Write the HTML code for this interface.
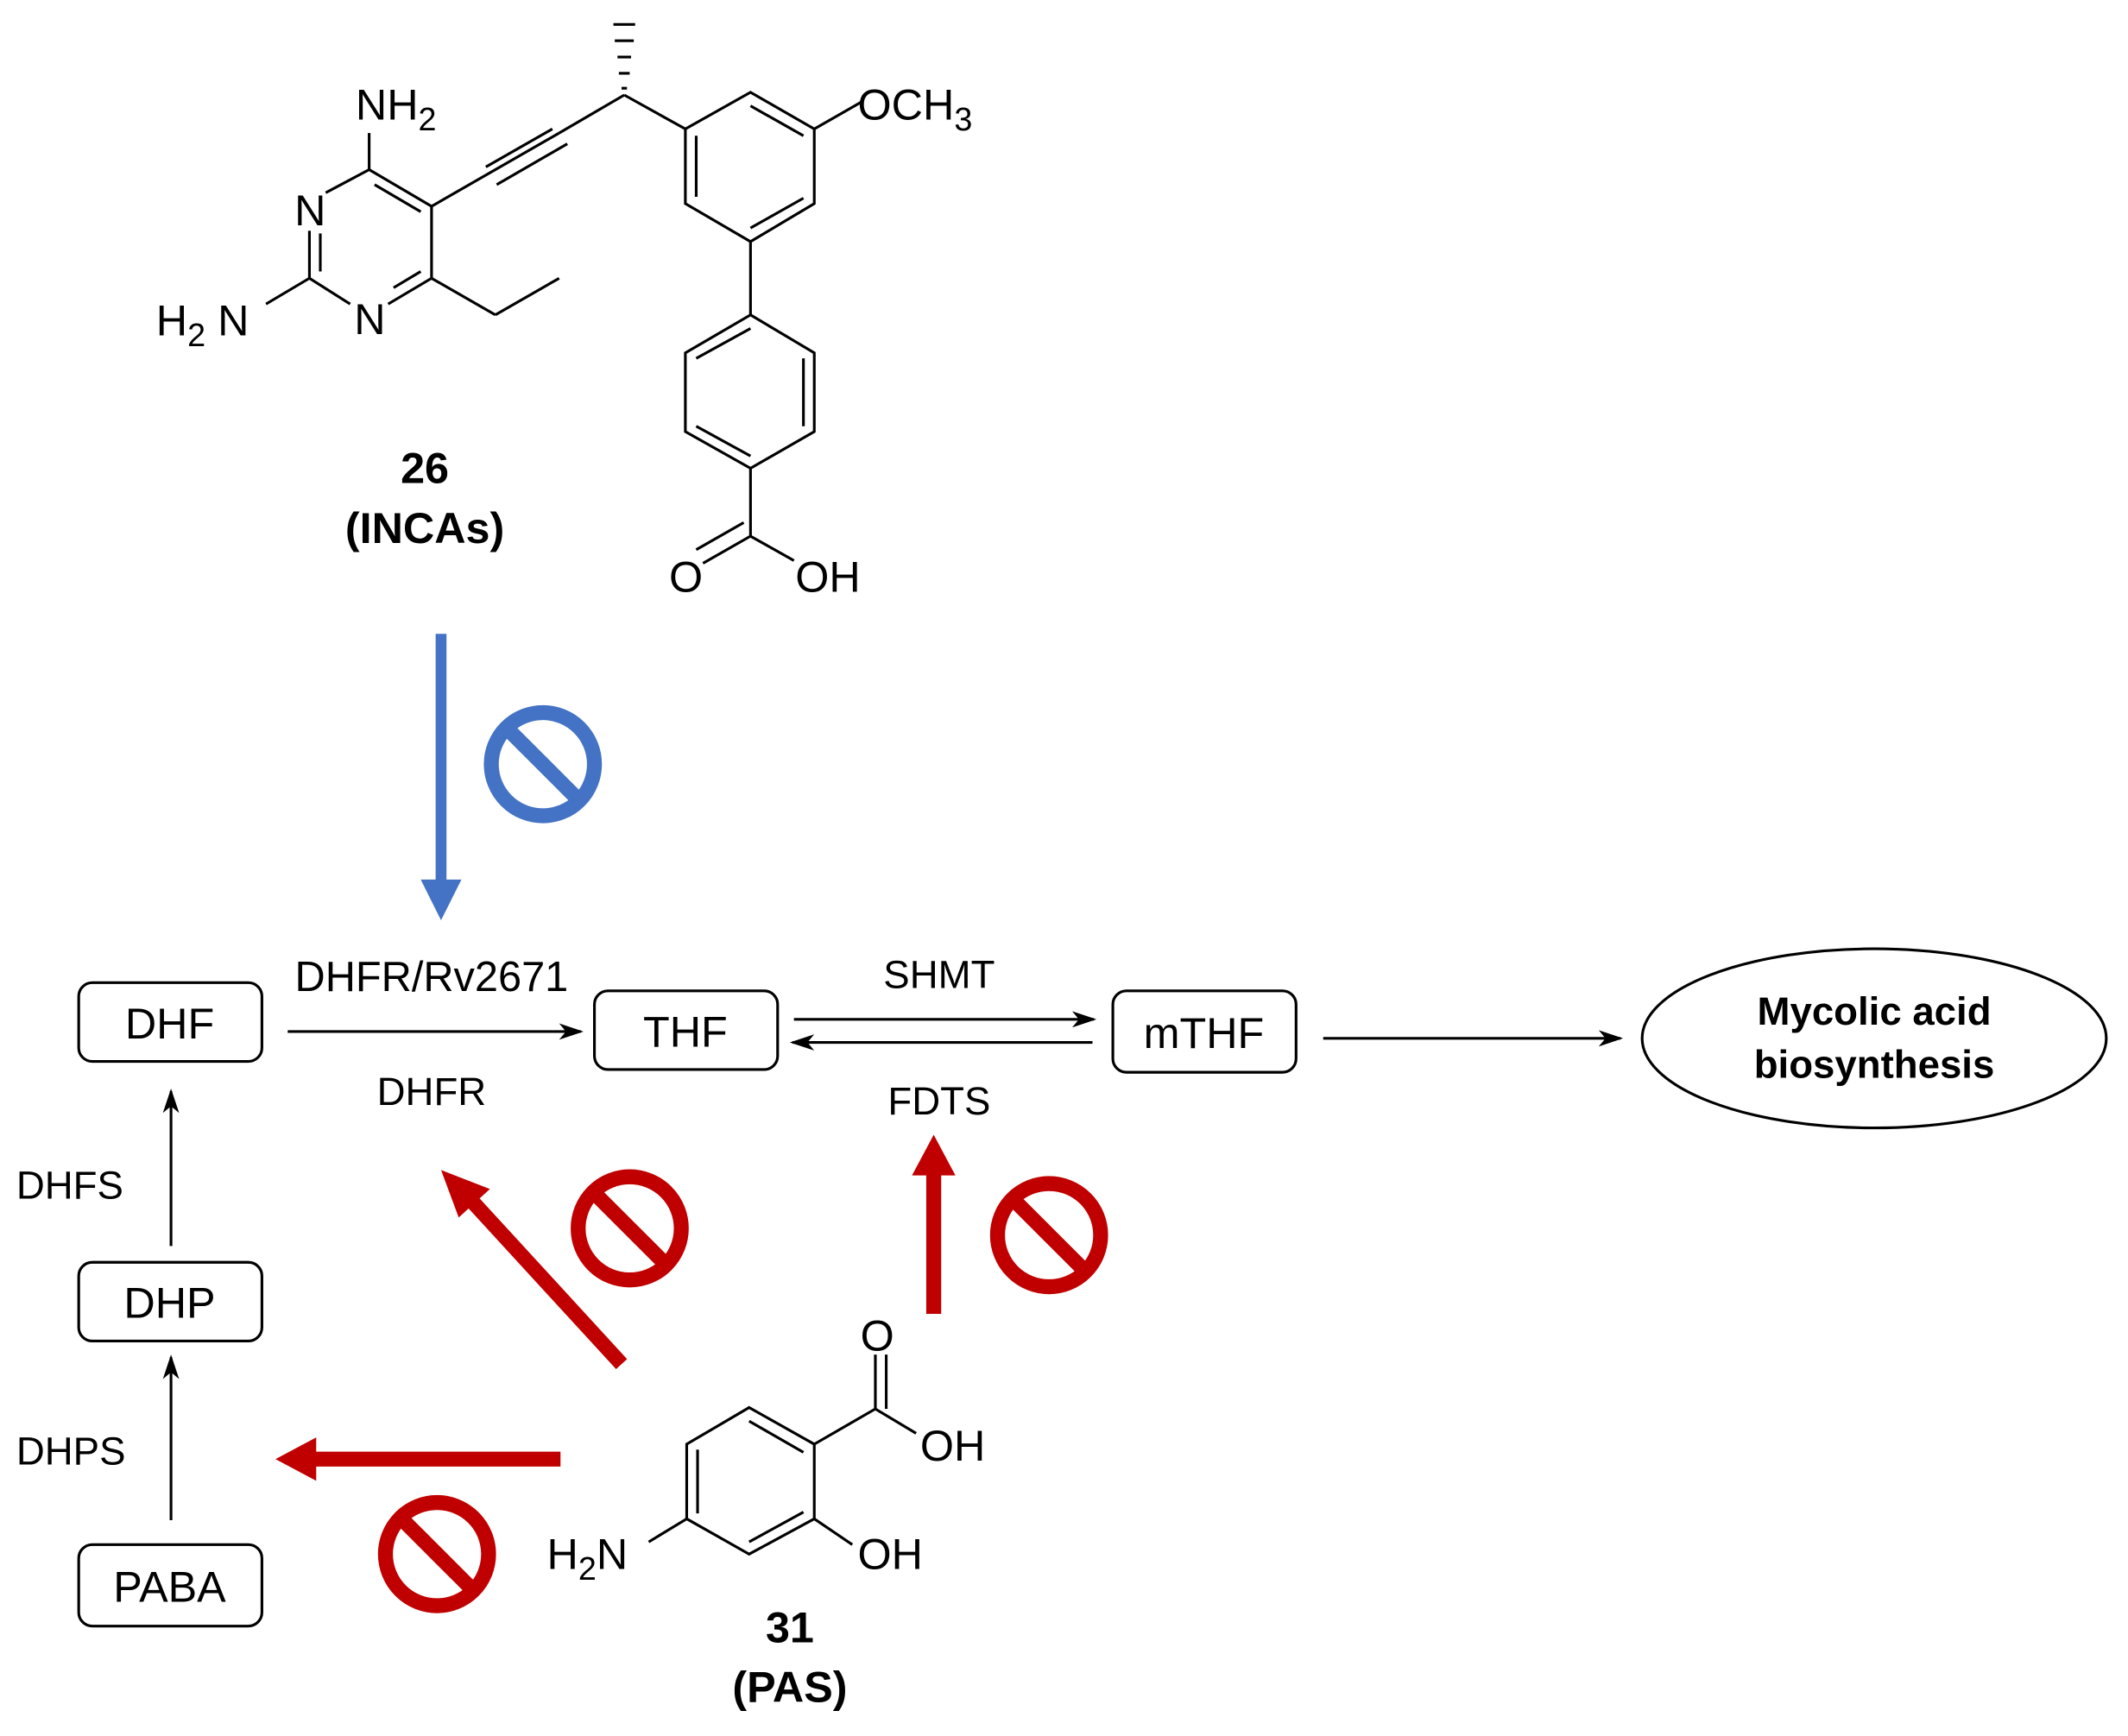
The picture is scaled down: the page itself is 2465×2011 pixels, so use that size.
<!DOCTYPE html>
<html><head><meta charset="utf-8"><style>html,body{margin:0;padding:0;background:#fff}svg{display:block}text{font-family:"Liberation Sans",sans-serif;fill:#000}</style></head>
<body>
<svg width="2465" height="2011" viewBox="0 0 1568 1279" preserveAspectRatio="none" xmlns="http://www.w3.org/2000/svg">
<defs>
<marker id="ah" markerWidth="18" markerHeight="12" refX="16" refY="6" orient="auto" markerUnits="userSpaceOnUse"><path d="M0,0 L18,6 L0,12 L5,6z" fill="#000"/></marker>
</defs>
<g stroke="#000" stroke-width="2" fill="none">
<line x1="272" y1="98" x2="272" y2="125"/>
<line x1="272" y1="125" x2="318" y2="152"/><line x1="276" y1="136" x2="310" y2="156"/>
<line x1="318" y1="152" x2="318" y2="205"/>
<line x1="318" y1="205" x2="286" y2="224"/><line x1="310" y1="200" x2="290" y2="212"/>
<line x1="258" y1="224" x2="228" y2="205"/>
<line x1="228" y1="205" x2="228" y2="170"/><line x1="236" y1="200" x2="236" y2="172"/>
<line x1="240" y1="142" x2="272" y2="125"/>
<line x1="228" y1="205" x2="196" y2="224"/>
<line x1="318" y1="205" x2="365" y2="232"/><line x1="365" y1="232" x2="412" y2="205"/>
<line x1="318" y1="152" x2="412" y2="98"/><line x1="358" y1="123" x2="407" y2="95" /><line x1="366" y1="136" x2="418" y2="106"/>
<line x1="412" y1="98" x2="460" y2="70"/>
<line x1="460" y1="70" x2="505" y2="95"/>
<polygon points="505,95 553,68 600,95 600,150 553,178 505,150"/>
<line x1="513" y1="100" x2="513" y2="145"/><line x1="553" y1="78" x2="592" y2="100"/><line x1="592" y1="146" x2="553" y2="168"/>
<line x1="600" y1="95" x2="635" y2="75"/>
<line x1="553" y1="178" x2="553" y2="232"/>
<polygon points="553,232 600,260 600,318 553,345 505,318 505,260"/>
<line x1="513" y1="264" x2="553" y2="242"/><line x1="592" y1="264" x2="592" y2="314"/><line x1="513" y1="314" x2="553" y2="336"/>
<line x1="553" y1="345" x2="553" y2="395"/>
<line x1="553" y1="395" x2="518" y2="415"/><line x1="548" y1="385" x2="513" y2="405"/>
<line x1="553" y1="395" x2="585" y2="413"/>
<polygon points="552,1037 600,1064 600,1119 552,1145 506,1119 506,1064"/>
<line x1="514" y1="1068" x2="514" y2="1115"/><line x1="552" y1="1047" x2="592" y2="1070"/><line x1="592" y1="1114" x2="552" y2="1136"/>
<line x1="600" y1="1064" x2="645" y2="1038"/>
<line x1="645" y1="1038" x2="645" y2="998"/><line x1="653" y1="1038" x2="653" y2="998"/>
<line x1="645" y1="1038" x2="675" y2="1056"/>
<line x1="600" y1="1119" x2="628" y2="1138"/>
<line x1="506" y1="1119" x2="478" y2="1136"/>
</g>
<g fill="#000">
<polygon points="452,17 468,17 468,19 452,19"/><polygon points="453,29 467,29 467,31 453,31"/><polygon points="455,41 465,41 465,43 455,43"/><polygon points="456,53 464,53 464,55 456,55"/><polygon points="458,64 462,64 462,66 458,66"/>
</g>
<g font-size="32">
<text x="262" y="88">NH<tspan font-size="24" dy="8">2</tspan></text>
<text x="217" y="166">N</text>
<text x="261" y="246">N</text>
<text x="115" y="247">H<tspan font-size="24" dy="8">2</tspan><tspan dy="-8"> N</tspan></text>
<text x="632" y="88">OCH<tspan font-size="24" dy="8">3</tspan></text>
<text x="493" y="436">O</text>
<text x="586" y="436">OH</text>
<text x="634" y="995">O</text>
<text x="678" y="1076">OH</text>
<text x="632" y="1156">OH</text>
<text x="403" y="1156">H<tspan font-size="24" dy="8">2</tspan><tspan dy="-8">N</tspan></text>
</g>
<g font-size="32" font-weight="bold" text-anchor="middle">
<text x="313" y="356">26</text><text x="313" y="400">(INCAs)</text>
<text x="582" y="1210">31</text><text x="582" y="1254">(PAS)</text>
</g>
<line x1="325" y1="467" x2="325" y2="650" stroke="#4472C4" stroke-width="8"/>
<polygon points="310,648 340,648 325,678" fill="#4472C4"/>
<circle cx="400" cy="563" r="38" fill="none" stroke="#4472C4" stroke-width="11"/>
<line x1="374" y1="537" x2="426" y2="589" stroke="#4472C4" stroke-width="11"/>
<g fill="none" stroke="#000" stroke-width="2">
<rect x="58" y="724" width="135" height="58" rx="10"/>
<rect x="438" y="730" width="135" height="58" rx="10"/>
<rect x="820" y="730" width="135" height="60" rx="10"/>
<rect x="58" y="930" width="135" height="58" rx="10"/>
<rect x="58" y="1138" width="135" height="60" rx="10"/>
<ellipse cx="1381" cy="765" rx="171" ry="66"/>
</g>
<g font-size="32" text-anchor="middle">
<text x="125" y="765">DHF</text><text x="505" y="771">THF</text><text x="887" y="772">mTHF</text>
<text x="125" y="971">DHP</text><text x="125" y="1180">PABA</text>
</g>
<g font-size="29" font-weight="bold" text-anchor="middle">
<text x="1381" y="755">Mycolic acid</text><text x="1381" y="794">biosynthesis</text>
</g>
<g font-size="29">
<text x="318" y="730" text-anchor="middle" font-size="31">DHFR/Rv2671</text>
<text x="318" y="814" text-anchor="middle">DHFR</text>
<text x="692" y="728" text-anchor="middle">SHMT</text>
<text x="692" y="821" text-anchor="middle">FDTS</text>
<text x="12" y="883">DHFS</text>
<text x="12" y="1079">DHPS</text>
</g>
<g stroke="#000" stroke-width="2" marker-end="url(#ah)">
<line x1="212" y1="760" x2="428" y2="760"/>
<line x1="585" y1="751" x2="806" y2="751"/>
<line x1="805" y1="768" x2="584" y2="768"/>
<line x1="975" y1="765" x2="1194" y2="765"/>
<line x1="126" y1="918" x2="126" y2="804"/>
<line x1="126" y1="1120" x2="126" y2="1000"/>
</g>
<g stroke="#C00000" stroke-width="11" fill="none">
<line x1="458" y1="1005" x2="346" y2="883"/>
<line x1="688" y1="968" x2="688" y2="860"/>
<line x1="413" y1="1075" x2="228" y2="1075"/>
<circle cx="464" cy="905" r="38"/><line x1="438" y1="879" x2="490" y2="931"/>
<circle cx="773" cy="910" r="38"/><line x1="747" y1="884" x2="799" y2="936"/>
<circle cx="322" cy="1145" r="38"/><line x1="296" y1="1119" x2="348" y2="1171"/>
</g>
<g fill="#C00000">
<polygon points="325,862 361,876 338,897"/>
<polygon points="688,836 672,866 704,866"/>
<polygon points="203,1075 233,1059 233,1091"/>
</g>
</svg>
</body></html>
